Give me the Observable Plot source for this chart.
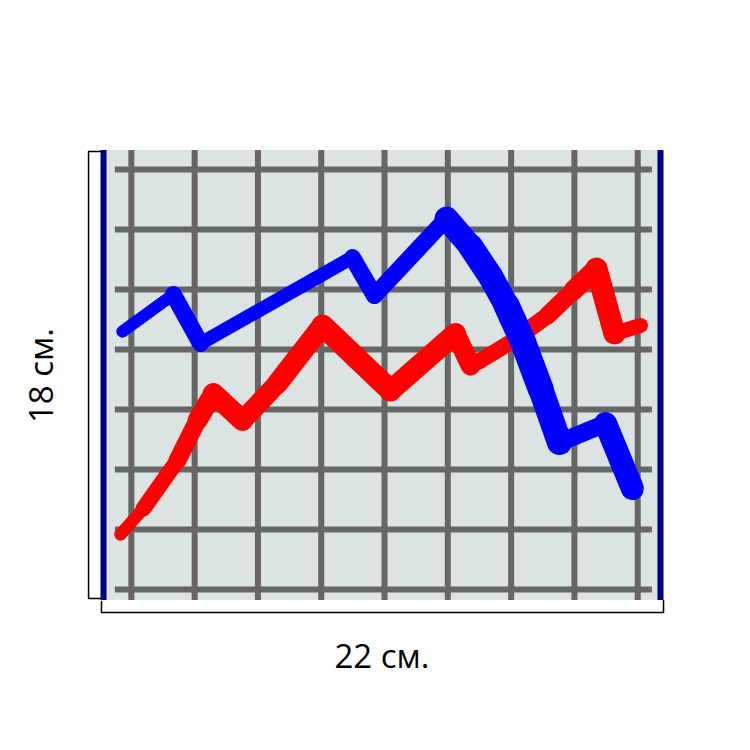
<!DOCTYPE html>
<html>
<head>
<meta charset="utf-8">
<script src="https://cdn.jsdelivr.net/npm/d3@7"></script>
<script src="https://cdn.jsdelivr.net/npm/@observablehq/plot@0.6"></script>
<style>
  html, body { margin: 0; padding: 0; background: #ffffff; }
  #chart svg { display: block; }
</style>
</head>
<body>
<div id="chart"></div>
<script>
// ---- data (centimetres) ----
const blueX = [0.75, 2.76, 3.83, 9.83, 10.70, 13.55, 14.50, 15.29, 15.92, 16.55, 17.26, 18.01, 19.83, 20.89];
const blueY = [10.76, 12.24, 10.28, 13.72, 12.20, 15.28, 14.16, 12.96, 11.80, 10.40, 8.48, 6.32, 7.08, 4.48];
const redX = [0.67, 1.58, 2.92, 3.71, 4.34, 5.49, 6.87, 8.65, 11.34, 13.90, 14.50, 14.89, 16.19, 17.54, 18.56, 19.47, 20.18, 21.21];
const redY = [2.64, 3.68, 5.60, 7.20, 8.28, 7.20, 8.68, 11.00, 8.40, 10.68, 9.40, 9.60, 10.40, 11.40, 12.40, 13.28, 10.68, 11.00];
const gridX = [1.1, 3.6, 6.1, 8.6, 11.1, 13.6, 16.1, 18.6, 21.1];
const gridY = [0.44, 2.84, 5.24, 7.64, 10.04, 12.44, 14.84, 17.24];
const widthLabel = "22 см.";
const heightLabel = "18 см.";
const paperW = 22;
const paperH = 18;

// ---- styles (segment thickness in px) ----
const blueStroke = [12, 17, 14, 17, 17, 24, 25, 25, 26, 26, 25, 18, 23];
const redStroke = [12, 16, 18, 20, 21, 20, 21, 22, 21, 20, 16, 16, 17, 18, 20, 22, 15];

const segs = (xs, ys, ws) => d3.range(xs.length - 1).map(i => ({
  x1: xs[i], y1: ys[i], x2: xs[i + 1], y2: ys[i + 1], w: ws[i]
}));
const pts = (xs, ys) => xs.map((x, i) => ({x, y: ys[i]}));

const leftBracket = [
  {x: -0.12, y: 17.96}, {x: -0.59, y: 17.96}, {x: -0.59, y: 0.08}, {x: -0.12, y: 0.08}
];
const bottomBracket = [
  {x: -0.08, y: -0.04}, {x: -0.08, y: -0.48}, {x: 22.12, y: -0.48}, {x: 22.12, y: 0.0}
];

const chart = Plot.plot({
  width: 750,
  height: 750,
  marginLeft: 103,
  marginRight: 90,
  marginTop: 150,
  marginBottom: 150,
  x: {domain: [0, paperW], axis: null},
  y: {domain: [0, paperH], axis: null},
  marks: [
    Plot.rect([{}], {x1: 0, x2: paperW, y1: 0, y2: paperH, fill: "#dce3e3"}),
    Plot.ruleX(gridX, {y1: 0, y2: paperH, stroke: "#666666", strokeWidth: 6}),
    Plot.ruleY(gridY, {x1: 0.47, x2: 21.68, stroke: "#666666", strokeWidth: 6}),
    Plot.line(pts(redX, redY), {x: "x", y: "y", stroke: "#ff0000", strokeWidth: 12, strokeLinejoin: "miter"}),
    Plot.link(segs(redX, redY, redStroke), {x1: "x1", y1: "y1", x2: "x2", y2: "y2", stroke: "#ff0000", strokeWidth: "w", strokeLinecap: "round"}),
    Plot.line(pts(blueX, blueY), {x: "x", y: "y", stroke: "#0000ff", strokeWidth: 12, strokeLinejoin: "miter"}),
    Plot.link(segs(blueX, blueY, blueStroke), {x1: "x1", y1: "y1", x2: "x2", y2: "y2", stroke: "#0000ff", strokeWidth: "w", strokeLinecap: "round"}),
    Plot.ruleX([0, paperW], {y1: 0, y2: paperH, stroke: "#000080", strokeWidth: 6}),
    Plot.line(leftBracket, {x: "x", y: "y", stroke: "#000000", strokeWidth: 1.5}),
    Plot.line(bottomBracket, {x: "x", y: "y", stroke: "#000000", strokeWidth: 1.5}),
    Plot.text([widthLabel], {x: paperW / 2, y: -2.28, text: d => d, fontSize: 33, fill: "#000000"}),
    Plot.text([heightLabel], {x: -2.41, y: paperH / 2, text: d => d, fontSize: 33, fill: "#000000", rotate: -90})
  ],
  style: {fontFamily: "'Open Sans', sans-serif", background: "#ffffff", overflow: "visible"}
});
document.getElementById("chart").append(chart);
</script>
</body>
</html>
